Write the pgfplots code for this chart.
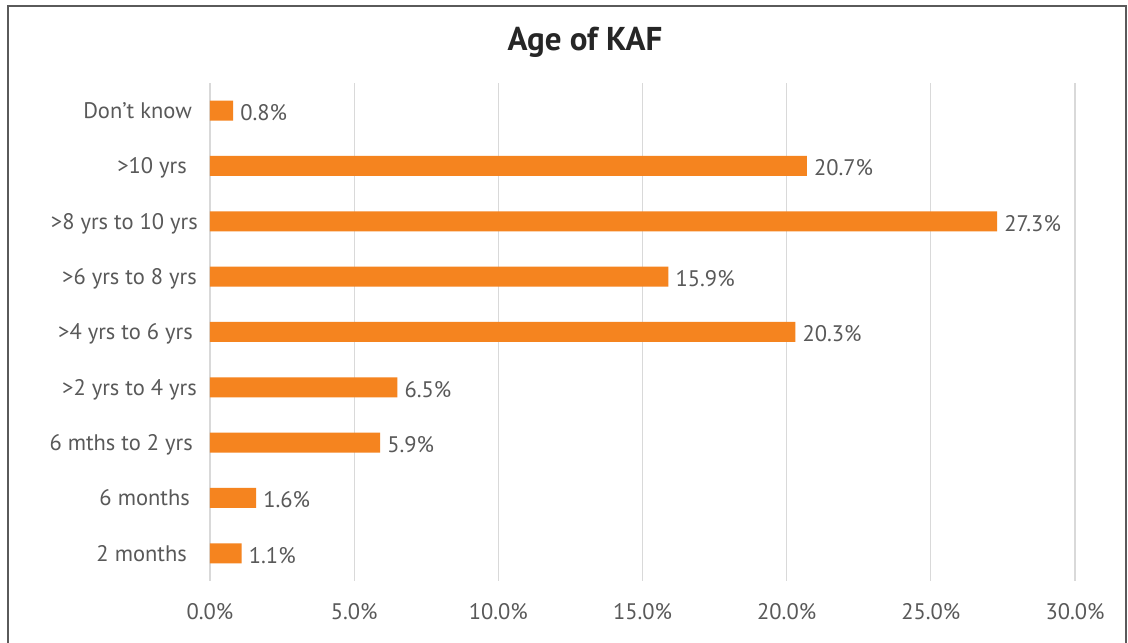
\documentclass[border=0pt]{standalone}
\usepackage{pgfplots}
\pgfplotsset{compat=1.18}
\usepackage{fontspec}
\setmainfont{PT Sans}
\definecolor{barc}{HTML}{F5841F}
\definecolor{txt}{HTML}{595959}
\definecolor{gridc}{HTML}{D9D9D9}
\definecolor{framec}{HTML}{5A5A5A}
\definecolor{titlec}{HTML}{262626}
\begin{document}
\begin{tikzpicture}[x=1pt,y=1pt]
\useasboundingbox (0,0) rectangle (1128,643);
\fill[white] (0,0) rectangle (1128,643);
\draw[framec, line width=1.6pt] (8,-5) -- (8,637) -- (1126,637) -- (1126,-5);
\node[anchor=base, text=titlec, font=\fontsize{33}{38}\selectfont\bfseries] at (585,592) {Age of KAF};
\begin{axis}[
  at={(210pt,62pt)}, anchor=south west,
  scale only axis, width=865pt, height=498pt,
  xbar, bar width=20pt,
  xmin=0, xmax=30, ymin=-0.5, ymax=8.5,
  axis line style={draw=none},
  xtick={0,5,...,30},
  xmajorgrids, grid style={gridc, line width=1.2pt},
  major tick length=0pt,
  /pgf/number format/assume math mode=true,
  xticklabel={\pgfmathprintnumber[fixed,zerofill,precision=1]{\tick}\%},
  xticklabel style={anchor=base, yshift=-38pt, text=txt, font=\fontsize{22.5}{27}\selectfont},
  ytick={0,...,8},
  yticklabels={{2 months\kern11pt},{6 months\kern8pt},{6 mths to 2 yrs\kern5pt},{>2 yrs to 4 yrs\kern1pt},{>4 yrs to 6 yrs\kern5pt},{>6 yrs to 8 yrs\kern1pt},{>8 yrs to 10 yrs},{>10 yrs\kern11pt},{Don’t know\kern6pt}},
  yticklabel style={anchor=base east, inner sep=0pt, xshift=-12pt, yshift=-8pt, text=txt, font=\fontsize{22.5}{27}\selectfont},
  nodes near coords={\pgfmathprintnumber[fixed,zerofill,precision=1]{\pgfplotspointmeta}\%},
  nodes near coords style={anchor=base west, inner sep=0pt, xshift=7pt, yshift=-10pt, text=txt, font=\fontsize{22.5}{27}\selectfont},
  point meta=explicit,
]
\addplot[fill=barc, draw=none] coordinates {
(1.1,0) [1.1]
(1.6,1) [1.6]
(5.9,2) [5.9]
(6.5,3) [6.5]
(20.3,4) [20.3]
(15.9,5) [15.9]
(27.3,6) [27.3]
(20.7,7) [20.7]
(0.8,8) [0.8]
};
\end{axis}
\end{tikzpicture}
\end{document}
